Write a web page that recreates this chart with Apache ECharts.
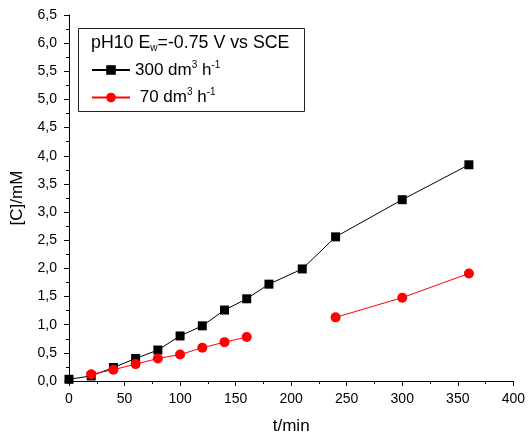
<!DOCTYPE html>
<html><head><meta charset="utf-8">
<script src="https://cdn.jsdelivr.net/npm/echarts@6/dist/echarts.min.js"></script>
<style>html,body{margin:0;padding:0;background:#fff}#c{width:528px;height:441px}</style>
</head><body><div id="c"></div>
<script>
var blackX = [0, 20, 40, 60, 80, 100, 120, 140, 160, 180, 210, 240, 300, 360];
var blackY = [0.03, 0.09, 0.24, 0.40, 0.55, 0.80, 0.98, 1.26, 1.46, 1.72, 1.99, 2.56, 3.22, 3.84];
var redX1 = [20, 40, 60, 80, 100, 120, 140, 160];
var redY1 = [0.12, 0.20, 0.30, 0.40, 0.47, 0.59, 0.69, 0.78];
var redX2 = [240, 300, 360];
var redY2 = [1.13, 1.48, 1.91];
var xTicks = [0, 50, 100, 150, 200, 250, 300, 350, 400];
var yTicks = [0, 0.5, 1, 1.5, 2, 2.5, 3, 3.5, 4, 4.5, 5, 5.5, 6, 6.5];
var blackName = '300 dm³ h⁻¹';
var redName = '70 dm³ h⁻¹';

function pairs(xs, ys) { return xs.map(function (x, i) { return [x, ys[i]]; }); }
var font = '"Liberation Sans", Arial, sans-serif';
var chart = echarts.init(document.getElementById('c'), null, { renderer: 'canvas' });
function rich(sz) {
  return {
    t: { fontSize: sz, fontFamily: font, color: '#000', fontWeight: 'normal' },
    sup: { fontSize: 10, fontFamily: font, color: '#000', fontWeight: 'normal', padding: [0, 0, 10, 0] },
    sub: { fontSize: 10, fontFamily: font, color: '#000', fontWeight: 'normal', padding: [10, 0, 0, 0] }
  };
}
chart.setOption({
  animation: false,
  backgroundColor: '#fff',
  grid: { left: 69, right: 14, top: 15, bottom: 60, containLabel: false },
  title: {
    text: '{t|pH10 E}{sub|w}{t|=-0.75 V vs SCE}',
    left: 91, top: 33, padding: 0,
    textStyle: { rich: rich(17.8), fontWeight: 'normal' }
  },
  graphic: [{
    type: 'rect', left: 76, top: 26, z: 10,
    shape: { width: 226, height: 83 },
    style: { fill: 'none', stroke: '#222', lineWidth: 1 }
  }],
  legend: {
    orient: 'vertical', left: 91, top: 60, itemGap: 9, padding: 0,
    itemWidth: 38, itemHeight: 12,
    data: [blackName, redName],
    formatter: function (n) {
      return n === blackName ? '{t|300 dm}{sup|3}{t| h}{sup|-1}' : '{t| 70 dm}{sup|3}{t| h}{sup|-1}';
    },
    textStyle: { rich: rich(17), fontSize: 17, fontFamily: font, color: '#000' }
  },
  xAxis: {
    type: 'value', min: 0, max: 400, interval: 50,
    name: 't/min', nameLocation: 'middle', nameGap: 37,
    nameTextStyle: { fontSize: 17, fontFamily: font, color: '#000' },
    axisLine: { show: true, lineStyle: { color: '#000', width: 1 } },
    axisTick: { show: true, inside: false, length: 5, lineStyle: { color: '#000' } },
    minorTick: { show: true, splitNumber: 2, length: 3, lineStyle: { color: '#000' } },
    axisLabel: { fontSize: 14, fontFamily: font, color: '#000', margin: 11 },
    splitLine: { show: false }
  },
  yAxis: {
    type: 'value', min: 0, max: 6.5, interval: 0.5,
    name: '[C]/mM', nameLocation: 'middle', nameGap: 43, nameRotate: 90,
    nameTextStyle: { fontSize: 17, fontFamily: font, color: '#000' },
    axisLine: { show: true, lineStyle: { color: '#000', width: 1 } },
    axisTick: { show: true, inside: false, length: 5, lineStyle: { color: '#000' } },
    minorTick: { show: true, splitNumber: 2, length: 3, lineStyle: { color: '#000' } },
    axisLabel: { fontSize: 14, fontFamily: font, color: '#000', margin: 12,
      formatter: function (v) { return v.toFixed(1).replace('.', ','); } },
    splitLine: { show: false }
  },
  series: [
    { name: blackName, type: 'line', data: pairs(blackX, blackY),
      symbol: 'rect', symbolSize: 9, color: '#000',
      lineStyle: { color: '#000', width: 1 },
      itemStyle: { color: '#000' } },
    { name: redName, type: 'line', data: pairs(redX1, redY1),
      symbol: 'circle', symbolSize: 10, color: '#f00',
      lineStyle: { color: '#f00', width: 1 },
      itemStyle: { color: '#f00' } },
    { name: redName, type: 'line', data: pairs(redX2, redY2),
      symbol: 'circle', symbolSize: 10, color: '#f00',
      lineStyle: { color: '#f00', width: 1 },
      itemStyle: { color: '#f00' } }
  ]
});
</script></body></html>
